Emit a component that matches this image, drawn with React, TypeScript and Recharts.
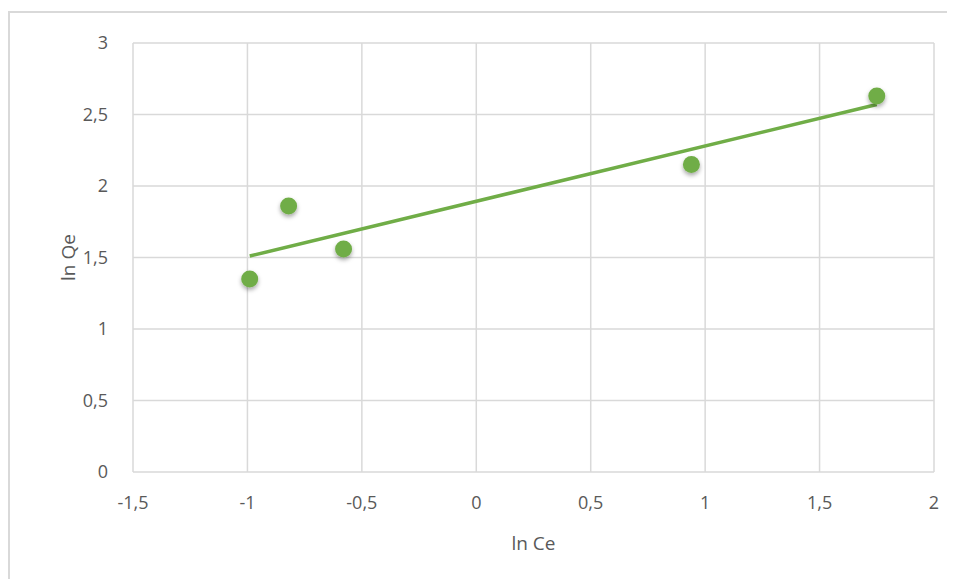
import { ScatterChart, Scatter, XAxis, YAxis, CartesianGrid, ReferenceLine } from 'recharts';

// measured points (ln Ce, ln Qe)
const LN_CE = [-0.99, -0.82, -0.58, 0.94, 1.75];
const LN_QE = [1.35, 1.86, 1.56, 2.15, 2.63];

// linear trendline end points
const TREND_X = [-0.99, 1.75];
const TREND_Y = [1.51, 2.57];

const X_TICKS = [-1.5, -1, -0.5, 0, 0.5, 1, 1.5, 2];
const Y_TICKS = [0, 0.5, 1, 1.5, 2, 2.5, 3];

const GREEN = '#70ad47';
const GRID = '#d9d9d9';
const TEXT = '#595959';
const FONT = '"Open Sans", sans-serif';

const points = LN_CE.map((x, i) => ({ x, y: LN_QE[i] }));
const trend = TREND_X.map((x, i) => ({ x, y: TREND_Y[i] }));

const fmt = (v: number) => String(v).replace('.', ',');

function Dot(props: any) {
  const { cx, cy } = props;
  return <circle cx={cx} cy={cy} r={8.5} fill={GREEN} filter="url(#dotShadow)" />;
}

export default function App() {
  return (
    <div style={{ position: 'relative', width: 947, height: 571, fontFamily: FONT }}>
      <style>{'html,body{overflow:hidden}'}</style>
      <svg width={0} height={0} style={{ position: 'absolute' }}>
        <defs>
          <filter id="dotShadow" x="-50%" y="-50%" width="200%" height="220%">
            <feDropShadow dx={0} dy={2.5} stdDeviation={2} floodColor="#000" floodOpacity={0.35} />
          </filter>
        </defs>
      </svg>
      {/* outer chart frame, cut off at the right and bottom */}
      <div style={{ position: 'absolute', left: 0, top: 3, width: 1100, height: 800, border: `2px solid ${GRID}` }} />
      <div style={{ position: 'absolute', left: 0, top: 0 }}>
        <ScatterChart width={947} height={571} margin={{ top: 35, right: 21, left: 60, bottom: 29 }}>
          <CartesianGrid stroke={GRID} strokeWidth={1.5} />
          <XAxis
            type="number"
            dataKey="x"
            domain={[-1.5, 2]}
            ticks={X_TICKS}
            tickFormatter={fmt}
            axisLine={false}
            tickLine={false}
            tickMargin={18}
            height={78}
            tick={{ fill: TEXT, fontSize: 18, fontFamily: FONT }}
            label={{ value: 'ln Ce', position: 'insideBottom', offset: 0, fill: TEXT, fontSize: 19, fontFamily: FONT }}
          />
          <YAxis
            type="number"
            dataKey="y"
            domain={[0, 3]}
            ticks={Y_TICKS}
            tickFormatter={fmt}
            axisLine={false}
            tickLine={false}
            tickMargin={19}
            width={65}
            tick={{ fill: TEXT, fontSize: 18, fontFamily: FONT }}
            label={{ value: 'ln Qe', angle: -90, position: 'insideLeft', offset: 0, fill: TEXT, fontSize: 19, fontFamily: FONT, style: { textAnchor: 'middle' } }}
          />
          <ReferenceLine
            segment={[trend[0], trend[1]]}
            stroke={GREEN}
            strokeWidth={3.5}
            ifOverflow="visible"
          />
          <Scatter data={points} fill={GREEN} shape={<Dot />} isAnimationActive={false} />
        </ScatterChart>
      </div>
    </div>
  );
}
